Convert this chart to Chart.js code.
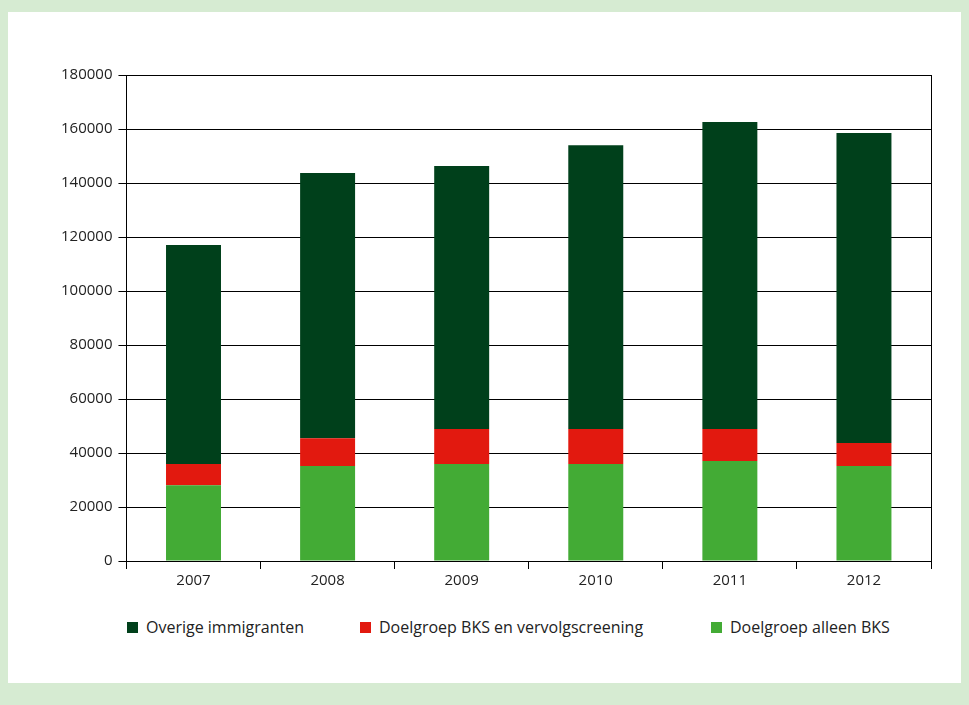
<!DOCTYPE html>
<html>
<head>
<meta charset="utf-8">
<script src="https://cdn.jsdelivr.net/npm/chart.js@4"></script>
<style>
  body { margin: 0; background: #d6ebd2; font-family: "Open Sans", sans-serif; }
  #panel { position: absolute; left: 8px; top: 12px; width: 953px; height: 671px; background: #fff; }
  #wrap { position: absolute; left: 0; top: 0; width: 953px; height: 581px; }
  .legend { position: absolute; top: 604px; font-size: 16px; color: #222; display: flex; align-items: center; }
  .legend span.box { display: inline-block; width: 11px; height: 11px; margin-right: 8px; }
</style>
</head>
<body>
<div id="panel">
  <div id="wrap"><canvas id="chart"></canvas></div>
  <div id="legend"></div>
</div>
<script>
// Categories and values
const years = ['2007', '2008', '2009', '2010', '2011', '2012'];
const alleenBKS = [28100, 35200, 35900, 35900, 37000, 35200];
const bksVervolg = [7800, 10300, 13000, 13000, 11900, 8500];
const overige = [81100, 98200, 97400, 105100, 113700, 114800];

const seriesNames = ['Overige immigranten', 'Doelgroep BKS en vervolgscreening', 'Doelgroep alleen BKS'];
const seriesColors = ['#00401b', '#e2190f', '#43ab35'];

// Draw the right edge of the plot area
const frame = {
    id: 'frame',
    afterDraw(chart) {
        const a = chart.chartArea, ctx = chart.ctx;
        ctx.save();
        ctx.strokeStyle = '#000';
        ctx.lineWidth = 1;
        ctx.beginPath();
        ctx.moveTo(a.right + 0.5, a.top);
        ctx.lineTo(a.right + 0.5, a.bottom);
        ctx.stroke();
        ctx.restore();
    }
};

new Chart(document.getElementById('chart'), {
    type: 'bar',
    data: {
        labels: years,
        datasets: [
            { label: seriesNames[2], data: alleenBKS, backgroundColor: seriesColors[2] },
            { label: seriesNames[1], data: bksVervolg, backgroundColor: seriesColors[1] },
            { label: seriesNames[0], data: overige, backgroundColor: seriesColors[0] }
        ]
    },
    options: {
        responsive: true,
        maintainAspectRatio: false,
        animation: false,
        layout: { padding: { left: 47, right: 30, top: 63, bottom: 0 } },
        datasets: { bar: { barPercentage: 0.41, categoryPercentage: 1 } },
        scales: {
            x: {
                stacked: true,
                grid: { color: '#000', drawOnChartArea: false, tickLength: 8 },
                border: { color: '#000' },
                ticks: { color: '#222', font: { family: 'Open Sans', size: 15 } }
            },
            y: {
                stacked: true,
                min: 0,
                max: 180000,
                grid: { color: '#000', tickLength: 8 },
                border: { color: '#000' },
                ticks: { stepSize: 20000, color: '#222', padding: 6, font: { family: 'Open Sans', size: 15 },
                         callback: v => String(v) }
            }
        },
        plugins: { legend: { display: false }, tooltip: { enabled: false } }
    },
    plugins: [frame]
});

// HTML legend
const legendX = [119, 352, 703];
const legend = document.getElementById('legend');
seriesNames.forEach((name, i) => {
    const item = document.createElement('div');
    item.className = 'legend';
    item.style.left = legendX[i] + 'px';
    item.innerHTML = `<span class="box" style="background:${seriesColors[i]}"></span>${name}`;
    legend.appendChild(item);
});
</script>
</body>
</html>
